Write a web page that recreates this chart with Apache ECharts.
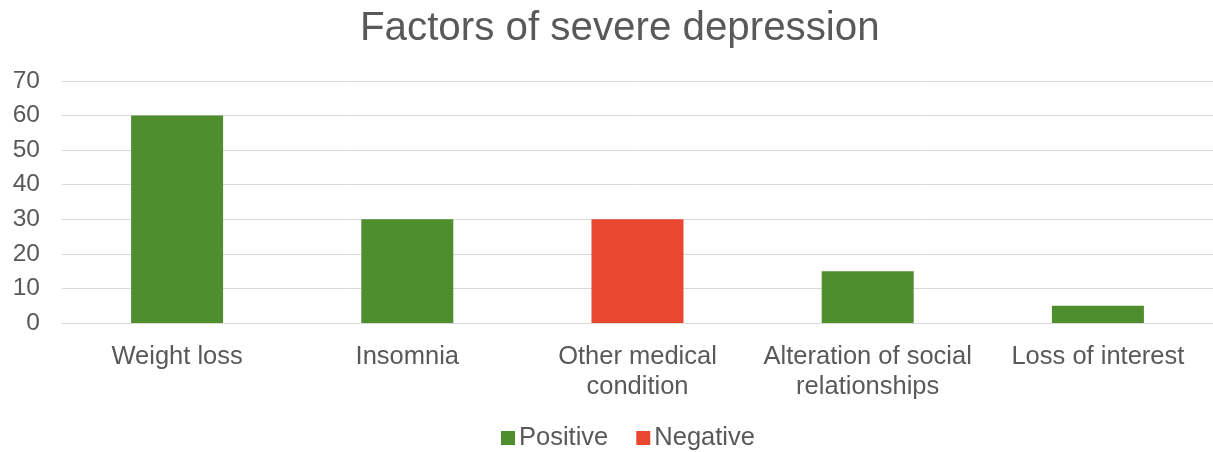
<!DOCTYPE html>
<html>
<head>
<meta charset="utf-8">
<script src="https://cdn.jsdelivr.net/npm/echarts@6/dist/echarts.min.js"></script>
<style>
  html, body { margin: 0; padding: 0; background: #fff; }
  #chart { width: 1213px; height: 452px; }
</style>
</head>
<body>
<div id="chart"></div>
<script>
// Factors and their effect on severe depression
const categories = ['Weight loss', 'Insomnia', 'Other medical\ncondition', 'Alteration of social\nrelationships', 'Loss of interest'];
const positiveValues = [60, 30, null, 15, 5];
const negativeValues = [null, null, 30, null, null];
const yTicks = [0, 10, 20, 30, 40, 50, 60, 70];

const FONT = '"Liberation Sans", Arial, sans-serif';
const TEXT = '#595959';

const chart = echarts.init(document.getElementById('chart'));
chart.setOption({
  animation: false,
  title: {
    text: 'Factors of severe depression',
    left: 355,
    top: 4,
    textStyle: { fontFamily: FONT, fontSize: 40.3, fontWeight: 'normal', color: TEXT }
  },
  legend: {
    top: 420,
    left: 496,
    icon: 'rect',
    itemWidth: 14,
    itemHeight: 14,
    itemGap: 28,
    textStyle: { fontFamily: FONT, fontSize: 25.5, color: TEXT, padding: [0, 0, 0, -1] },
    data: ['Positive', 'Negative']
  },
  grid: { left: 62, right: -4, top: 81, bottom: 129, containLabel: false },
  xAxis: {
    type: 'category',
    data: categories,
    axisTick: { show: false },
    axisLine: { lineStyle: { color: '#d9d9d9' } },
    axisLabel: { fontFamily: FONT, fontSize: 25.5, color: TEXT, lineHeight: 30, margin: 19, interval: 0 }
  },
  yAxis: {
    type: 'value',
    min: yTicks[0],
    max: yTicks[yTicks.length - 1],
    interval: 10,
    axisLine: { show: false },
    axisTick: { show: false },
    splitLine: { lineStyle: { color: '#d9d9d9', width: 1 } },
    axisLabel: { fontFamily: FONT, fontSize: 24.5, color: TEXT, margin: 22, align: 'right' }
  },
  series: [
    {
      name: 'Positive',
      type: 'bar',
      stack: 'effect',
      data: positiveValues,
      barWidth: 92,
      itemStyle: { color: '#4F8E2F' }
    },
    {
      name: 'Negative',
      type: 'bar',
      stack: 'effect',
      data: negativeValues,
      barWidth: 92,
      itemStyle: { color: '#EA4731' }
    }
  ]
});
</script>
</body>
</html>
